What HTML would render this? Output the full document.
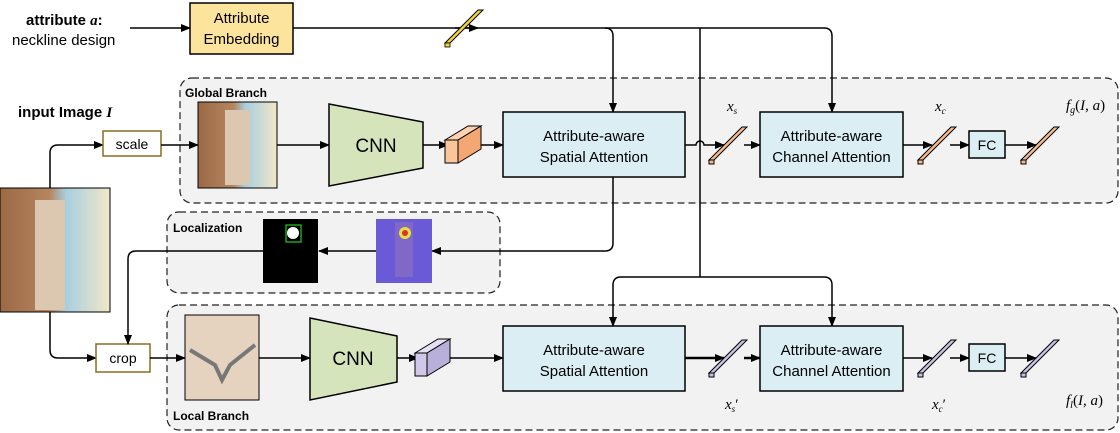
<!DOCTYPE html>
<html><head><meta charset="utf-8"><style>
body{margin:0;background:#fff}
svg{display:block;font-family:"Liberation Sans",sans-serif}
</style></head><body>
<svg width="1120" height="433" viewBox="0 0 1120 433" xmlns="http://www.w3.org/2000/svg">
<defs>
<marker id="a" markerWidth="10" markerHeight="10" refX="9" refY="5" orient="auto" markerUnits="userSpaceOnUse"><path d="M0,1 L10,5 L0,9 Z" fill="#000"/></marker>
<linearGradient id="bg1" x1="0" x2="1"><stop offset="0" stop-color="#9b6a45"/><stop offset="0.45" stop-color="#b58560"/><stop offset="0.6" stop-color="#a8cfe0"/><stop offset="1" stop-color="#f1e7c8"/></linearGradient>
</defs>
<rect x="180" y="78" width="938" height="125" rx="12" fill="#f2f2f2" stroke="#222" stroke-dasharray="7,4" stroke-width="1.2"/>
<rect x="167" y="212" width="333" height="81" rx="12" fill="#f2f2f2" stroke="#222" stroke-dasharray="7,4" stroke-width="1.2"/>
<rect x="167" y="305" width="951" height="125" rx="12" fill="#f2f2f2" stroke="#222" stroke-dasharray="7,4" stroke-width="1.2"/>
<text x="185" y="97" font-size="12" font-weight="bold">Global Branch</text>
<text x="173" y="232" font-size="12" font-weight="bold">Localization</text>
<text x="173" y="420" font-size="12" font-weight="bold">Local Branch</text>

<text x="26" y="25" font-size="15" font-weight="bold">attribute <tspan font-family="Liberation Serif" font-style="italic">a</tspan>:</text>
<text x="12" y="45" font-size="15">neckline design</text>
<line x1="130" y1="28" x2="190" y2="28" stroke="#000" stroke-width="1.5" marker-end="url(#a)"/>
<rect x="190" y="3" width="103" height="51" fill="#fde49c" stroke="#000" stroke-width="1.5"/>
<text x="241.5" y="23" font-size="15" text-anchor="middle">Attribute</text>
<text x="241.5" y="44" font-size="15" text-anchor="middle">Embedding</text>
<path d="M293,28 H824 Q832,28 832,36 V112" fill="none" stroke="#000" stroke-width="1.5" marker-end="url(#a)"/>
<path d="M605,28 Q613,28 613,36 V112" fill="none" stroke="#000" stroke-width="1.5" marker-end="url(#a)"/>
<line x1="700" y1="28" x2="700" y2="277" stroke="#000" stroke-width="1.5"/>
<line x1="455" y1="28" x2="478" y2="28" stroke="#000" stroke-width="1.5" marker-end="url(#a)"/>
<polygon points="445,43 478,10 483,10 450,43" fill="#f5d23a" stroke="#000" stroke-width="1"/>
<rect x="445" y="43" width="5" height="4" fill="#f5d23a" stroke="#000" stroke-width="0.8"/>

<text x="18" y="117" font-size="15" font-weight="bold">input Image <tspan font-family="Liberation Serif" font-style="italic">I</tspan></text>
<rect x="0" y="188" width="110" height="124" fill="url(#bg1)" stroke="#000"/>
<rect x="35" y="200" width="30" height="110" fill="#dcc7b0"/>
<path d="M50,188 V153 Q50,145 58,145 H103" fill="none" stroke="#000" stroke-width="1.5" marker-end="url(#a)"/>
<path d="M50,312 V350 Q50,358 58,358 H96" fill="none" stroke="#000" stroke-width="1.5" marker-end="url(#a)"/>
<rect x="103" y="131" width="58" height="25" fill="#fff" stroke="#8a6d1e" stroke-width="1.5"/>
<text x="132" y="149" font-size="14" text-anchor="middle">scale</text>
<rect x="96" y="344" width="54" height="28" fill="#fff" stroke="#8a6d1e" stroke-width="1.5"/>
<text x="123" y="363" font-size="14" text-anchor="middle">crop</text>
<line x1="161" y1="145" x2="198" y2="145" stroke="#000" stroke-width="1.5" marker-end="url(#a)"/>
<line x1="150" y1="358" x2="185" y2="358" stroke="#000" stroke-width="1.5" marker-end="url(#a)"/>

<rect x="198" y="102" width="79" height="86" fill="url(#bg1)" stroke="#000"/>
<rect x="225" y="110" width="25" height="75" fill="#dcc7b0"/>
<line x1="277" y1="145" x2="329" y2="145" stroke="#000" stroke-width="1.5" marker-end="url(#a)"/>
<polygon points="329,104 423,122 423,168 329,186" fill="#d6e4bc" stroke="#000" stroke-width="1.5"/>
<text x="376" y="152" font-size="19" text-anchor="middle">CNN</text>
<line x1="423" y1="145" x2="448" y2="145" stroke="#000" stroke-width="1.5" marker-end="url(#a)"/>
<polygon points="445,140 468,126 481,126 458,140" fill="#fcd3b0" stroke="#000"/>
<polygon points="458,140 481,126 481,149 458,163" fill="#f3a874" stroke="#000"/>
<rect x="445" y="140" width="13" height="23" fill="#fbc59c" stroke="#000"/>
<line x1="481" y1="145" x2="503" y2="145" stroke="#000" stroke-width="1.5" marker-end="url(#a)"/>
<rect x="503" y="112" width="182" height="65" fill="#dbeef4" stroke="#000" stroke-width="1.5"/>
<text x="594" y="141" font-size="15" text-anchor="middle">Attribute-aware</text>
<text x="594" y="162" font-size="15" text-anchor="middle">Spatial Attention</text>
<path d="M685,145 H696 A4,4 0 0 1 704,145 H724" fill="none" stroke="#000" stroke-width="1.5" marker-end="url(#a)"/>
<line x1="744" y1="145" x2="760" y2="145" stroke="#000" stroke-width="1.5" marker-end="url(#a)"/>
<rect x="760" y="112" width="143" height="65" fill="#dbeef4" stroke="#000" stroke-width="1.5"/>
<text x="831.5" y="141" font-size="15" text-anchor="middle">Attribute-aware</text>
<text x="831.5" y="162" font-size="15" text-anchor="middle">Channel Attention</text>
<line x1="903" y1="145" x2="932" y2="145" stroke="#000" stroke-width="1.5" marker-end="url(#a)"/>
<line x1="950" y1="145" x2="969" y2="145" stroke="#000" stroke-width="1.5" marker-end="url(#a)"/>
<rect x="969" y="131" width="36" height="27" fill="#dbeef4" stroke="#000" stroke-width="1.5"/>
<text x="987" y="150" font-size="14" text-anchor="middle">FC</text>
<line x1="1005" y1="145" x2="1036" y2="145" stroke="#000" stroke-width="1.5" marker-end="url(#a)"/>
<g fill="#f6b98a" stroke="#000" stroke-width="1">
<polygon points="709,160 742,127 747,127 714,160"/><rect x="709" y="160" width="5" height="4"/>
<polygon points="918,160 951,127 956,127 923,160"/><rect x="918" y="160" width="5" height="4"/>
<polygon points="1021,160 1054,127 1059,127 1026,160"/><rect x="1021" y="160" width="5" height="4"/>
</g>
<g font-family="Liberation Serif" font-style="italic" font-size="15">
<text x="727" y="111">x<tspan font-size="9" dy="3">s</tspan></text>
<text x="935" y="111">x<tspan font-size="9" dy="3">c</tspan></text>
<text x="1066" y="110">f<tspan font-size="10" dy="3">g</tspan><tspan dy="-3" font-style="normal">(</tspan>I<tspan font-style="normal">, </tspan>a<tspan font-style="normal">)</tspan></text>
<text x="725" y="409">x<tspan font-size="9" dy="3">s</tspan><tspan dy="-3" font-style="normal">′</tspan></text>
<text x="932" y="409">x<tspan font-size="9" dy="3">c</tspan><tspan dy="-3" font-style="normal">′</tspan></text>
<text x="1066" y="405">f<tspan font-size="10" dy="3">l</tspan><tspan dy="-3" font-style="normal">(</tspan>I<tspan font-style="normal">, </tspan>a<tspan font-style="normal">)</tspan></text>
<text x="392" y="240">α<tspan font-size="9" dy="3">s</tspan></text>
</g>

<path d="M613,177 V243 Q613,251 605,251 H432" fill="none" stroke="#000" stroke-width="1.5" marker-end="url(#a)"/>
<rect x="376" y="219" width="56" height="64" fill="#6a5ad8"/>
<rect x="395" y="222" width="18" height="55" fill="#8a6dc0" opacity="0.7"/>
<circle cx="405" cy="233" r="6" fill="#e8e040"/><circle cx="405" cy="233" r="3" fill="#e03030"/>
<line x1="376" y1="251" x2="319" y2="251" stroke="#000" stroke-width="1.5" marker-end="url(#a)"/>
<rect x="263" y="219" width="55" height="64" fill="#000"/>
<rect x="286" y="225" width="15" height="17" fill="none" stroke="#2c2" stroke-width="1.2"/>
<circle cx="293" cy="233" r="6" fill="#fff"/>
<path d="M263,251 H136 Q128,251 128,259 V344" fill="none" stroke="#000" stroke-width="1.5" marker-end="url(#a)"/>

<path d="M700,277 H621 Q613,277 613,285 V326" fill="none" stroke="#000" stroke-width="1.5" marker-end="url(#a)"/>
<path d="M700,277 H824 Q832,277 832,285 V326" fill="none" stroke="#000" stroke-width="1.5" marker-end="url(#a)"/>
<rect x="185" y="315" width="74" height="85" fill="#e5d3bf" stroke="#000"/>
<path d="M190,350 L215,365 L222,380 L230,365 L255,345" fill="none" stroke="#777" stroke-width="4"/>
<line x1="259" y1="358" x2="310" y2="358" stroke="#000" stroke-width="1.5" marker-end="url(#a)"/>
<polygon points="310,318 397,336 397,382 310,400" fill="#d6e4bc" stroke="#000" stroke-width="1.5"/>
<text x="353" y="365" font-size="19" text-anchor="middle">CNN</text>
<line x1="397" y1="358" x2="418" y2="358" stroke="#000" stroke-width="1.5" marker-end="url(#a)"/>
<polygon points="415,353 438,339 450,339 427,353" fill="#e6e0f4" stroke="#000"/>
<polygon points="427,353 450,339 450,362 427,376" fill="#b8b0d8" stroke="#000"/>
<rect x="415" y="353" width="12" height="23" fill="#cfc8e8" stroke="#000"/>
<line x1="450" y1="358" x2="503" y2="358" stroke="#000" stroke-width="1.5" marker-end="url(#a)"/>
<rect x="503" y="326" width="182" height="65" fill="#dbeef4" stroke="#000" stroke-width="1.5"/>
<text x="594" y="355" font-size="15" text-anchor="middle">Attribute-aware</text>
<text x="594" y="376" font-size="15" text-anchor="middle">Spatial Attention</text>
<line x1="685" y1="358" x2="724" y2="358" stroke="#000" stroke-width="2.5" marker-end="url(#a)"/>
<line x1="744" y1="358" x2="760" y2="358" stroke="#000" stroke-width="2.5" marker-end="url(#a)"/>
<rect x="760" y="326" width="143" height="65" fill="#dbeef4" stroke="#000" stroke-width="1.5"/>
<text x="831.5" y="355" font-size="15" text-anchor="middle">Attribute-aware</text>
<text x="831.5" y="376" font-size="15" text-anchor="middle">Channel Attention</text>
<line x1="903" y1="358" x2="932" y2="358" stroke="#000" stroke-width="1.5" marker-end="url(#a)"/>
<line x1="950" y1="358" x2="969" y2="358" stroke="#000" stroke-width="1.5" marker-end="url(#a)"/>
<rect x="969" y="344" width="36" height="27" fill="#dbeef4" stroke="#000" stroke-width="1.5"/>
<text x="987" y="363" font-size="14" text-anchor="middle">FC</text>
<line x1="1005" y1="358" x2="1036" y2="358" stroke="#000" stroke-width="1.5" marker-end="url(#a)"/>
<g fill="#c9c2e2" stroke="#000" stroke-width="1">
<polygon points="709,373 742,340 747,340 714,373"/><rect x="709" y="373" width="5" height="4"/>
<polygon points="918,373 951,340 956,340 923,373"/><rect x="918" y="373" width="5" height="4"/>
<polygon points="1021,373 1054,340 1059,340 1026,373"/><rect x="1021" y="373" width="5" height="4"/>
</g>
</svg>
</body></html>
